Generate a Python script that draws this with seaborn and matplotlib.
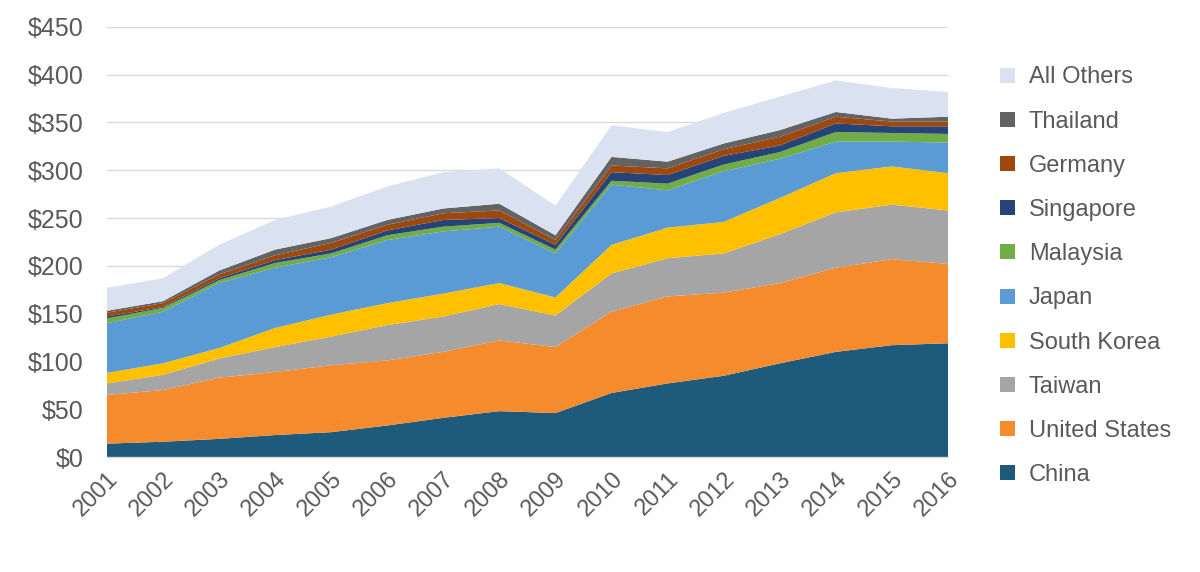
import numpy as np
import pandas as pd
import matplotlib
matplotlib.use("Agg")
import matplotlib.pyplot as plt
import seaborn as sns
from matplotlib.patches import Patch
from matplotlib.ticker import FuncFormatter

years = list(range(2001, 2017))
china = [14, 16, 19, 23, 26, 33, 41, 48, 46, 67, 77, 85, 98, 110, 117, 119]
united_states = [51, 54, 64, 66, 70, 68, 69, 74, 69, 85, 91, 87, 84, 88, 90, 83]
taiwan = [12, 16, 20, 26, 30, 37, 37, 38, 33, 40, 40, 41, 51, 58, 57, 56]
south_korea = [11, 12, 11, 20, 23, 23, 24, 22, 19, 30, 32, 33, 38, 41, 40, 39]
japan = [52, 54, 68, 63, 60, 66, 65, 59, 46, 63, 39, 53, 41, 33, 26, 32]
malaysia = [5, 4, 3, 5, 4, 5, 5, 4, 4, 4, 7, 7, 7, 10, 9, 9]
singapore = [2, 1, 2, 3, 4, 5, 7, 5, 5, 9, 9, 9, 7, 9, 7, 8]
germany = [4, 4, 4, 5, 7, 6, 7, 8, 5, 7, 7, 7, 9, 7, 5, 5]
thailand = [2, 2, 4, 6, 5, 5, 5, 7, 5, 9, 7, 6, 7, 5, 3, 5]
all_others = [24, 24, 27, 31, 33, 35, 38, 37, 31, 33, 31, 32, 35, 33, 32, 26]

series_names = ["China", "United States", "Taiwan", "South Korea", "Japan",
                "Malaysia", "Singapore", "Germany", "Thailand", "All Others"]
series_values = [china, united_states, taiwan, south_korea, japan,
                 malaysia, singapore, germany, thailand, all_others]
colors = ["#1d5a7b", "#f58b2c", "#a5a5a5", "#ffc000", "#5b9bd5",
          "#70ad47", "#264478", "#9e480e", "#636363", "#dae1f1"]
y_ticks = [0, 50, 100, 150, 200, 250, 300, 350, 400, 450]

df = pd.DataFrame(dict(zip(series_names, series_values)), index=years)

sns.set_theme(style="white")
plt.rcParams['font.family'] = ['Liberation Sans', 'DejaVu Sans']
text_color = "#595959"

fig = plt.figure(figsize=(12, 5.72), dpi=100)
ax = fig.add_axes([0.089, 0.201, 0.701, 0.752])

ax.stackplot(df.index, [df[c].values for c in series_names], colors=colors,
             edgecolor="none", linewidth=0)

ax.set_xlim(2001, 2016)
ax.set_ylim(0, 450)
ax.set_yticks(y_ticks)
ax.yaxis.set_major_formatter(FuncFormatter(lambda v, p: f"${int(v)}"))
ax.set_xticks(years)
ax.set_xticklabels([str(y) for y in years], rotation=45, ha="right",
                   rotation_mode="anchor")
ax.grid(axis="y", color="#d9d9d9", linewidth=1.0)
ax.set_axisbelow(True)
for s in ["top", "right", "left"]:
    ax.spines[s].set_visible(False)
ax.spines["bottom"].set_color("#d9d9d9")
ax.spines["bottom"].set_linewidth(1.0)
ax.tick_params(axis="both", length=0, colors=text_color)
ax.tick_params(axis="x", labelsize=17, pad=8)
ax.tick_params(axis="y", labelsize=18, pad=17)

handles = [Patch(facecolor=colors[i], edgecolor="none", label=series_names[i])
           for i in range(len(series_names))][::-1]
fig.legend(handles=handles, loc="upper left", bbox_to_anchor=(0.816, 0.921),
           frameon=False, fontsize=17, labelcolor=text_color,
           handlelength=0.6, handleheight=0.6, handletextpad=0.6,
           labelspacing=0.94)

fig.savefig("out.png", dpi=100)
